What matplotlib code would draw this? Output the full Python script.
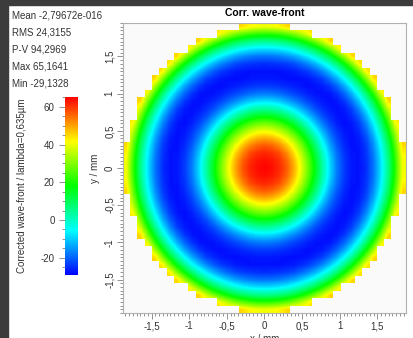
import numpy as np
import matplotlib
matplotlib.use("Agg")
import matplotlib.pyplot as plt
from matplotlib.colors import LinearSegmentedColormap, ListedColormap
from matplotlib.ticker import MultipleLocator, FuncFormatter
from matplotlib.patches import Rectangle

plt.rcParams['font.family'] = ['Liberation Sans', 'DejaVu Sans']
plt.rcParams['axes.unicode_minus'] = False

# radial profile of the wave-front (rho = r / R)
profile_rho = [0.0, 0.05, 0.10, 0.15, 0.20, 0.25, 0.30, 0.35, 0.40, 0.45,
               0.50, 0.55, 0.60, 0.65, 0.70, 0.75, 0.80, 0.85, 0.90, 0.95,
               1.0]
profile = [65, 64, 62, 58, 51, 42, 31, 19, 7, -5, -15, -22, -26, -28, -27,
           -23, -15, -4, 10, 27, 46]

stats = ["Mean -2,79672e-016", "RMS 24,3155", "P-V 94,2969",
         "Max 65,1641", "Min -29,1328"]
vmin, vmax = -29.1328, 65.1641
cbar_ticks = [-20, 0, 20, 40, 60]
axis_ticks = [-1.5, -1, -0.5, 0, 0.5, 1, 1.5]

n_cells = 39
r_cells = 19.3
x_ext = 1.88
y_ext = 1.95

# build the cell grid from the radial profile
c = np.arange(n_cells) - (n_cells - 1) / 2
dx, dy = np.meshgrid(c, c)
rr = np.sqrt(dx**2 + dy**2) / r_cells
inside = rr <= 1.0
Z = np.interp(rr, profile_rho, profile)

cmap = LinearSegmentedColormap.from_list(
    'wf', ['#0000ff', '#00ffff', '#00ff00', '#ffff00', '#ff0000'])
bg = '#fafafa'

fig = plt.figure(figsize=(4.14, 3.38), dpi=100)
fig.patch.set_facecolor('white')

ax = fig.add_axes([123/414, 1 - 313/338, 283/414, 290/338])
ax.set_facecolor(bg)
ext = [-x_ext, x_ext, -y_ext, y_ext]
im = ax.imshow(Z, cmap=cmap, vmin=vmin, vmax=vmax, extent=ext,
               origin='lower', interpolation='bilinear', aspect='auto')
outside = np.ma.masked_where(inside, np.ones_like(Z))
ax.imshow(outside, cmap=ListedColormap([bg]), extent=ext, origin='lower',
          interpolation='nearest', aspect='auto')
ax.set_xlim(-x_ext, x_ext)
ax.set_ylim(-y_ext, y_ext)

fmt = FuncFormatter(lambda v, p: ('%g' % v).replace('.', ','))
ax.set_xticks(axis_ticks)
ax.set_yticks(axis_ticks)
ax.xaxis.set_major_formatter(fmt)
ax.yaxis.set_major_formatter(fmt)
ax.xaxis.set_minor_locator(MultipleLocator(0.05))
ax.yaxis.set_minor_locator(MultipleLocator(0.05))
ax.tick_params(which='both', direction='out', color='#808080',
               labelsize=7, labelcolor='#333333', width=0.6)
ax.tick_params(which='major', length=4, pad=2)
ax.tick_params(which='minor', length=2)
for lab in ax.get_yticklabels():
    lab.set_rotation(90)
    lab.set_va('center')
for s in ax.spines.values():
    s.set_color('#b0b0b0')
    s.set_linewidth(0.8)

ax.set_title('Corr. wave-front', fontsize=7.5, fontweight='bold', pad=5)
ax.set_xlabel('x / mm', fontsize=7, color='#333333', labelpad=2)
ax.set_ylabel('y / mm', fontsize=7, color='#333333', labelpad=3)

# colorbar
cax = fig.add_axes([65/414, 1 - 275/338, 13/414, 178/338])
cb = fig.colorbar(im, cax=cax, ticks=cbar_ticks)
cb.outline.set_visible(False)
cax.yaxis.set_ticks_position('left')
cax.yaxis.set_label_position('left')
cax.yaxis.set_minor_locator(MultipleLocator(5))
cax.tick_params(which='both', direction='out', color='#808080',
                labelsize=7, labelcolor='#333333', width=0.6)
cax.tick_params(which='major', length=4)
cax.tick_params(which='minor', length=2)
cax.set_ylabel('Corrected wave-front / lambda=0,635µm', fontsize=7,
               color='#333333', labelpad=10)

# statistics block
for i, s in enumerate(stats):
    fig.text(12/414, 1 - (15 + i * 17.2)/338, s, fontsize=7,
             color='#333333', va='center', ha='left')

# dark window border
fig.patches.append(Rectangle((0, 0), 8/414, 1, transform=fig.transFigure,
                             color='#3c3c3c', zorder=10))
fig.patches.append(Rectangle((0, 1 - 5/338), 1, 5/338,
                             transform=fig.transFigure, color='#3c3c3c',
                             zorder=10))

plt.savefig('out.png', dpi=100)
plt.close()
